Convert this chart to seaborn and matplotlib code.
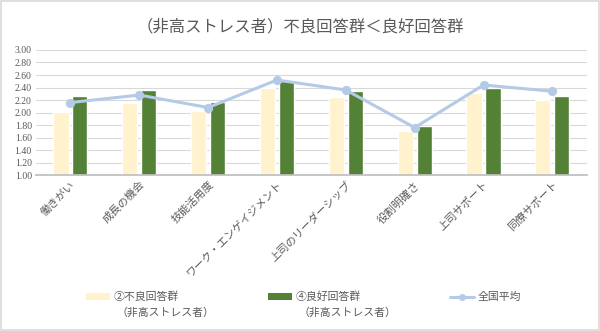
import matplotlib
matplotlib.use("Agg")
import matplotlib.pyplot as plt
import seaborn as sns
import pandas as pd
import numpy as np
from matplotlib.patches import Patch, Rectangle
from matplotlib.lines import Line2D

categories = ["働きがい", "成長の機会", "技能活用度", "ワーク・エンゲイジメント",
              "上司のリーダーシップ", "役割明確さ", "上司サポート", "同僚サポート"]
bad_group = [2.01, 2.16, 2.03, 2.39, 2.25, 1.70, 2.32, 2.20]
good_group = [2.26, 2.36, 2.17, 2.50, 2.35, 1.79, 2.39, 2.27]
national_avg = [2.16, 2.28, 2.08, 2.52, 2.36, 1.76, 2.44, 2.34]
series_names = ["②不良回答群", "④良好回答群", "全国平均"]
series_sub = ["（非高ストレス者）", "（非高ストレス者）", ""]
title = "（非高ストレス者）不良回答群＜良好回答群"
yticks = [1.00, 1.20, 1.40, 1.60, 1.80, 2.00, 2.20, 2.40, 2.60, 2.80, 3.00]

sns.set_theme(style="white")
plt.rcParams['font.family'] = ['Noto Sans CJK JP', 'DejaVu Sans']

c_bad = "#FFF2CC"
c_good = "#538135"
c_line = "#B4CBE8"
txt = "#595959"

df = pd.DataFrame({
    "cat": categories * 2,
    "val": bad_group + good_group,
    "grp": [series_names[0]] * len(categories) + [series_names[1]] * len(categories),
})

fig = plt.figure(figsize=(6.0, 3.31), dpi=100)
ax = fig.add_axes([0.06, 0.471, 0.918, 0.378])

sns.barplot(data=df, x="cat", y="val", hue="grp", order=categories,
            hue_order=series_names[:2], palette=[c_bad, c_good],
            width=0.55, gap=0.2, ax=ax, legend=False, saturation=1)
# bars drawn from 1.0 baseline
for p in ax.patches:
    h = p.get_height()
    p.set_y(1.0)
    p.set_height(h - 1.0)

sns.pointplot(x=categories, y=national_avg, ax=ax, color=c_line,
              markers="o", markersize=5, linewidth=2.2, errorbar=None)

ax.set_ylim(1.0, 3.0)
ax.set_xlim(-0.5, len(categories) - 0.5)
ax.set_yticks(yticks)
ax.set_yticklabels([f"{v:.2f}" for v in yticks], fontsize=7, color=txt,
                   family=['Liberation Serif', 'DejaVu Serif'])
ax.set_xticks(range(len(categories)))
ax.set_xticklabels(categories, rotation=45, ha="right", rotation_mode="anchor",
                   fontsize=7.8, color=txt)
ax.tick_params(axis="both", length=0, pad=3)
ax.yaxis.grid(True, color="#D9D9D9", linewidth=0.8)
ax.set_axisbelow(True)
for s in ["top", "right", "left"]:
    ax.spines[s].set_visible(False)
ax.spines["bottom"].set_color("#BFBFBF")
ax.set_xlabel("")
ax.set_ylabel("")

fig.text(0.5, 0.918, title, ha="center", va="center", fontsize=11.8, color=txt)

handles = [Patch(facecolor=c_bad, edgecolor="none"),
           Patch(facecolor=c_good, edgecolor="none"),
           Line2D([0], [0], color=c_line, lw=2.2, marker="o", markersize=4)]
leg = fig.legend(handles, series_names, loc="center left", bbox_to_anchor=(0.143, 0.103),
                 ncol=3, frameon=False, fontsize=7.8, labelcolor=txt,
                 handlelength=2.2, handleheight=0.55, columnspacing=8.25, handletextpad=0.35,
                 bbox_transform=fig.transFigure, borderaxespad=0, borderpad=0)

fig.canvas.draw()
renderer = fig.canvas.get_renderer()
inv = fig.transFigure.inverted()
for t, sub in zip(leg.get_texts(), series_sub):
    if not sub:
        continue
    bb = t.get_window_extent(renderer)
    x0, _ = inv.transform((bb.x0, bb.y0))
    fig.text(x0 + 0.005, 0.054, sub, ha="left", va="center", fontsize=7.8, color=txt)

fig.patches.append(Rectangle((0.002, 0.003), 0.996, 0.994, transform=fig.transFigure,
                             fill=False, edgecolor="#D9D9D9", linewidth=1.2))

fig.savefig("out.png", dpi=100)
